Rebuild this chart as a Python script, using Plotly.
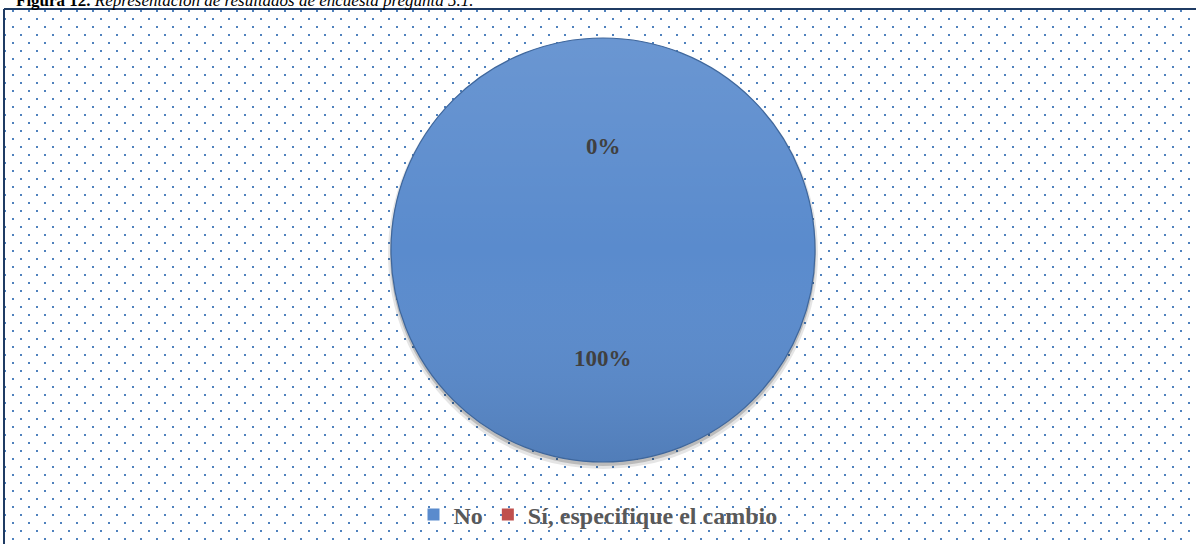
import base64
import plotly.graph_objects as go

# ---- data ----
labels = ["No", "Sí, especifique el cambio"]
values = [100, 0]
colors = ["#5A8BCD", "#C0504D"]
title_bold = "Figura 12."
title_rest = " Representación de resultados de encuesta pregunta 5.1."

W, H = 1196, 544
total = sum(values)
pcts = [f"{round(v / total * 100)}%" for v in values]

# dotted background pattern (decorative)
svg = f'''<svg xmlns="http://www.w3.org/2000/svg" width="{W}" height="{H}">
<defs><pattern id="p" x="0" y="0" width="16" height="16" patternUnits="userSpaceOnUse">
<rect x="12" y="10" width="2" height="2" fill="#4F81BD"/>
<rect x="4" y="2" width="2" height="2" fill="#4F81BD"/>
</pattern></defs>
<rect x="0" y="0" width="{W}" height="{H}" fill="white"/>
<rect x="4" y="10" width="{W}" height="{H}" fill="url(#p)"/>
</svg>'''
src = "data:image/svg+xml;base64," + base64.b64encode(svg.encode()).decode()

cx, cy, r = 603, 250, 212
dom_x = [(cx - r) / W, (cx + r) / W]
dom_y = [(H - cy - r) / H, (H - cy + r) / H]

# subtle shading over the pie (decorative)
shade = f'''<svg xmlns="http://www.w3.org/2000/svg" width="{2*r}" height="{2*r}">
<defs><linearGradient id="g" x1="0" y1="0" x2="0" y2="1">
<stop offset="0" stop-color="#ffffff" stop-opacity="0.10"/>
<stop offset="0.5" stop-color="#ffffff" stop-opacity="0"/>
<stop offset="1" stop-color="#000000" stop-opacity="0.10"/>
</linearGradient></defs>
<circle cx="{r}" cy="{r}" r="{r}" fill="url(#g)"/>
</svg>'''
shade_src = "data:image/svg+xml;base64," + base64.b64encode(shade.encode()).decode()

fig = go.Figure()
fig.add_trace(go.Pie(
    labels=labels, values=values, sort=False, direction="clockwise", rotation=0,
    marker=dict(colors=colors, line=dict(width=0)),
    textinfo="none", hoverinfo="label+percent",
    domain=dict(x=dom_x, y=dom_y),
))

# data labels (Excel-style positions)
label_y = [146, 358]
ordered = [pcts[1], pcts[0]]
for txt, ly in zip(ordered, label_y):
    fig.add_annotation(x=cx / W, y=(H - ly) / H, xref="paper", yref="paper",
                       xanchor="center", yanchor="middle",
                       text=f"<b>{txt}</b>", showarrow=False,
                       font=dict(family="Liberation Serif", size=23, color="#404040"))

# cut-off caption at top (as in the source image)
fig.add_annotation(x=14 / W, y=1, xref="paper", yref="paper", xanchor="left", yanchor="bottom",
                   yshift=-12, text=f"<b>{title_bold}</b><i>{title_rest}</i>", showarrow=False,
                   font=dict(family="Liberation Serif", size=17, color="black"))

# frame
shapes = [
    dict(type="line", xref="paper", yref="paper", x0=4 / W, x1=1, y0=(H - 9) / H, y1=(H - 9) / H,
         line=dict(color="#1F3B63", width=2)),
    dict(type="line", xref="paper", yref="paper", x0=4 / W, x1=4 / W, y0=0, y1=(H - 9) / H,
         line=dict(color="#1F3B63", width=2)),
]
# soft shadow under the pie
for dy, grow, op in [(4, 3, 0.10), (3, 1, 0.18)]:
    shapes.append(dict(type="circle", xref="paper", yref="paper", layer="below",
                       x0=(cx - r - grow) / W, x1=(cx + r + grow) / W,
                       y0=(H - cy - dy - r - grow) / H, y1=(H - cy - dy + r + grow) / H,
                       fillcolor=f"rgba(0,0,0,{op})", line=dict(width=0)))
# pie outline
shapes.append(dict(type="circle", xref="paper", yref="paper",
                   x0=(cx - r) / W, x1=(cx + r) / W, y0=(H - cy - r) / H, y1=(H - cy + r) / H,
                   line=dict(color="#3F679C", width=1.2)))

fig.update_layout(
    width=W, height=H,
    margin=dict(l=0, r=0, t=0, b=0),
    paper_bgcolor="white", plot_bgcolor="white",
    shapes=shapes,
    images=[dict(source=src, xref="paper", yref="paper", x=0, y=1, sizex=1, sizey=1,
                 xanchor="left", yanchor="top", sizing="stretch", layer="below"),
            dict(source=shade_src, xref="paper", yref="paper", x=(cx - r) / W, y=(H - cy + r) / H,
                 sizex=2 * r / W, sizey=2 * r / H, xanchor="left", yanchor="top",
                 sizing="stretch", layer="above")],
    showlegend=True,
    legend=dict(orientation="h", x=0.5, xanchor="center", y=(H - 515) / H, yanchor="middle",
                font=dict(family="Liberation Serif", size=24, color="#595959", weight="bold"),
                bgcolor="rgba(0,0,0,0)", itemwidth=30, traceorder="normal"),
)

fig.write_html("out.html", config={"displayModeBar": False},
               post_script="document.body.style.margin='0';document.body.style.overflow='hidden';")
